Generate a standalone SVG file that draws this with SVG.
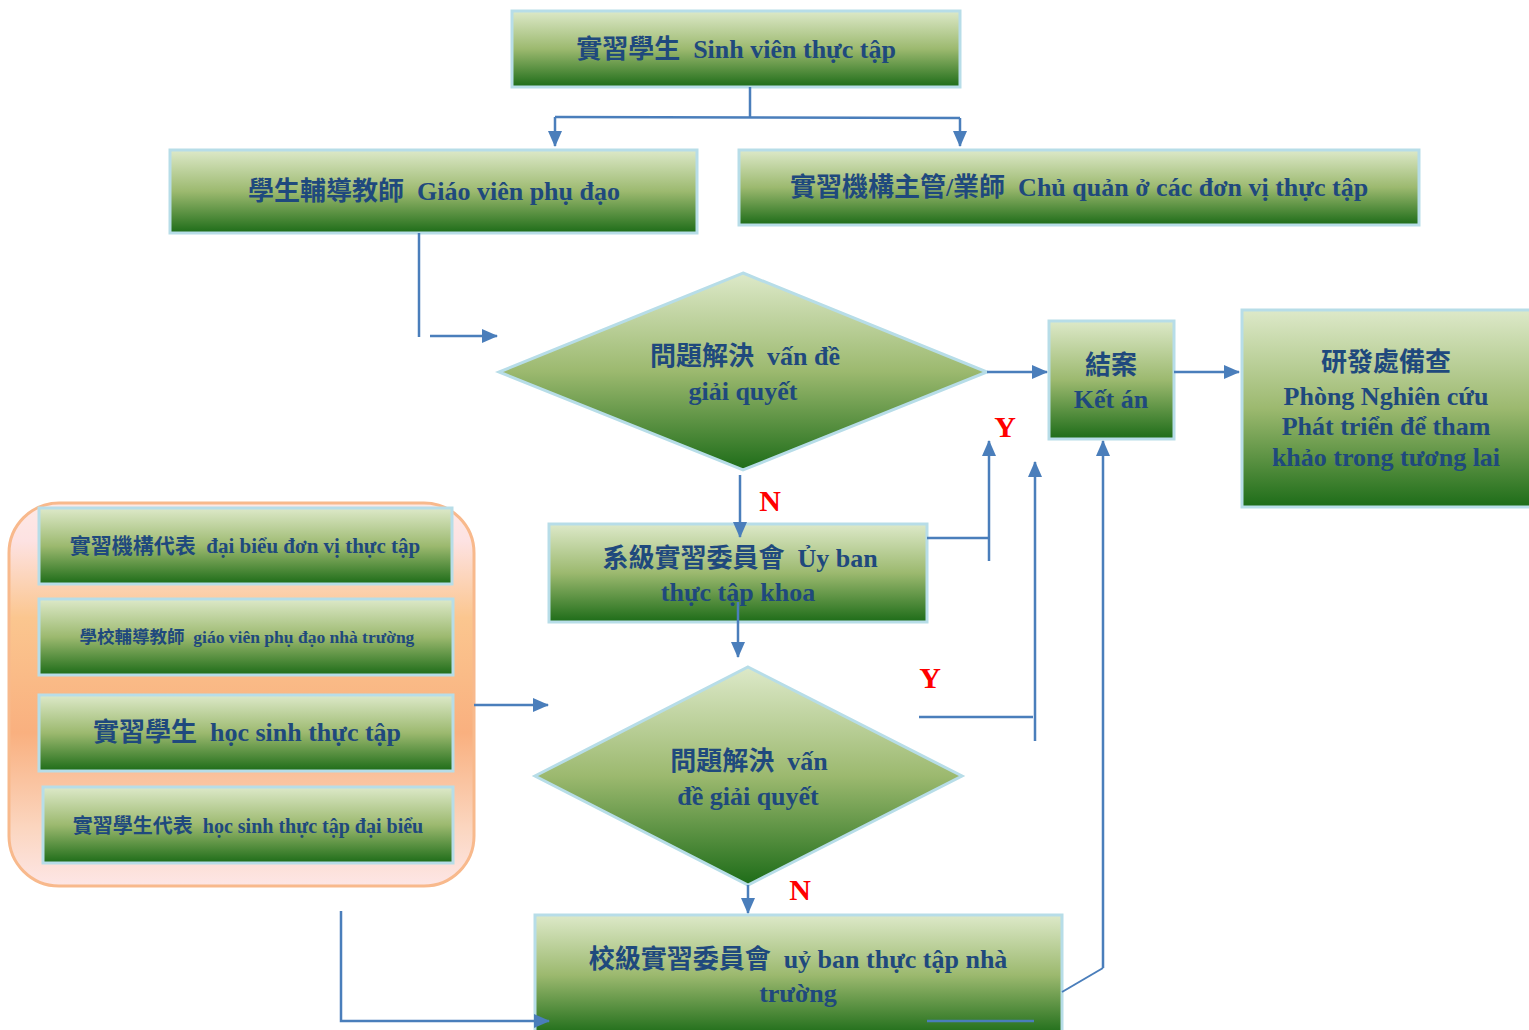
<svg xmlns="http://www.w3.org/2000/svg" width="1529" height="1030" viewBox="0 0 1529 1030" xml:space="preserve">
<defs>
<linearGradient id="g" x1="0" y1="0" x2="0" y2="1">
<stop offset="0" stop-color="#dde9c9"/>
<stop offset="0.5" stop-color="#9cb96f"/>
<stop offset="1" stop-color="#1d6c18"/>
</linearGradient>
<linearGradient id="og" x1="0" y1="0" x2="0" y2="1">
<stop offset="0" stop-color="#fde9e6"/>
<stop offset="0.1" stop-color="#fde2e2"/>
<stop offset="0.3" stop-color="#fbc68f"/>
<stop offset="0.6" stop-color="#f9b07f"/>
<stop offset="0.85" stop-color="#fbd6c0"/>
<stop offset="1" stop-color="#fde6e6"/>
</linearGradient>
<marker id="ah" markerWidth="16" markerHeight="14" refX="15" refY="7" orient="auto" markerUnits="userSpaceOnUse">
<path d="M0,0 L16,7 L0,14 z" fill="#4a7ebb"/>
</marker>
</defs>
<style>
.box{fill:url(#g);stroke:#b7dde8;stroke-width:3}
.t{font-family:"Liberation Serif","Noto Sans CJK TC",serif;font-weight:bold;fill:#1f497d;text-anchor:middle;font-size:26px;white-space:pre}
.lbl{font-family:"Liberation Serif",serif;font-weight:bold;fill:#ff0000;font-size:30px;text-anchor:middle}
.c{fill:none;stroke:#4a7ebb;stroke-width:2.5}
.a{marker-end:url(#ah)}
</style>
<g id="group-left"><rect x="9" y="503" width="465" height="383" rx="50" ry="50" fill="url(#og)" stroke="#f8b98c" stroke-width="3"/></g>
<g id="n-top"><rect class="box" x="512" y="11" width="448" height="76"/><text class="t" x="736" y="58">實習學生  Sinh viên thực tập</text></g>
<g id="n-gvpd"><rect class="box" x="170" y="150" width="527" height="83"/><text class="t" x="434" y="200">學生輔導教師  Giáo viên phụ đạo</text></g>
<g id="n-chuquan"><rect class="box" x="739" y="150" width="680" height="75"/><text class="t" x="1079" y="196">實習機構主管/業師  Chủ quản ở các đơn vị thực tập</text></g>
<g id="n-d1"><polygon class="box" points="743,273 987,372 743,470 499,372"/><text class="t" x="745" y="365">問題解決  vấn đề</text><text class="t" x="743" y="400">giải quyết</text></g>
<g id="n-ketan"><rect class="box" x="1049" y="321" width="125" height="118"/><text class="t" x="1111" y="374">結案</text><text class="t" x="1111" y="408">Kết án</text></g>
<g id="n-research"><rect class="box" x="1242" y="310" width="292" height="197"/><text class="t" x="1386" y="371">研發處備查</text><text class="t" x="1386" y="405">Phòng Nghiên cứu</text><text class="t" x="1386" y="435">Phát triển để tham</text><text class="t" x="1386" y="466">khảo trong tương lai</text></g>
<g id="n-khoa"><rect class="box" x="549" y="524" width="378" height="98"/><text class="t" x="740" y="567">系級實習委員會  Ủy ban</text><text class="t" x="738" y="601">thực tập khoa</text></g>
<g id="n-d2"><polygon class="box" points="748,667 962,776 748,885 535,776"/><text class="t" x="749" y="770">問題解決  vấn</text><text class="t" x="748" y="805">đề giải quyết</text></g>
<g id="n-school"><rect class="box" x="535" y="915" width="527" height="120"/><text class="t" x="798" y="968">校級實習委員會  uỷ ban thực tập nhà</text><text class="t" x="798" y="1002">trường</text></g>
<g id="n-l1"><rect class="box" x="39" y="508" width="413" height="76"/><text class="t" x="245" y="553" style="font-size:21px">實習機構代表  đại biểu đơn vị thực tập</text></g>
<g id="n-l2"><rect class="box" x="39" y="599" width="414" height="76"/><text class="t" x="247" y="643" style="font-size:17.5px">學校輔導教師  giáo viên phụ đạo nhà trường</text></g>
<g id="n-l3"><rect class="box" x="39" y="695" width="414" height="76"/><text class="t" x="247" y="741">實習學生  học sinh thực tập</text></g>
<g id="n-l4"><rect class="box" x="43" y="787" width="410" height="76"/><text class="t" x="248" y="833" style="font-size:20px">實習學生代表  học sinh thực tập đại biểu</text></g>
<g id="connectors">
<path class="c" d="M750,87 V117"/>
<path class="c" d="M555,117 L960,118"/>
<path class="c a" d="M555,117 V146"/>
<path class="c a" d="M960,118 V146"/>
<path class="c" d="M419,233 V337"/>
<path class="c a" d="M430,336 H497"/>
<path class="c a" d="M987,372 H1047"/>
<path class="c a" d="M1174,372 H1239"/>
<path class="c a" d="M740,475 V537"/>
<path class="c" d="M927,538 H989"/>
<path class="c a" d="M989,561 V441"/>
<path class="c a" d="M738,602 V657"/>
<path class="c a" d="M474,705 H548"/>
<path class="c" d="M919,717 H1033"/>
<path class="c a" d="M1035,741 V462"/>
<path class="c a" d="M748,885 V913"/>
<path class="c a" d="M341,911 V1021 H549"/>
<path class="c" d="M927,1021 H1034"/>
<path class="c" style="stroke-width:2" d="M1062,992 L1103,968"/>
<path class="c a" d="M1103,968 V441"/>
<text class="lbl" x="1005" y="437">Y</text>
<text class="lbl" x="770" y="511">N</text>
<text class="lbl" x="930" y="688">Y</text>
<text class="lbl" x="800" y="900">N</text>
</g>
</svg>
